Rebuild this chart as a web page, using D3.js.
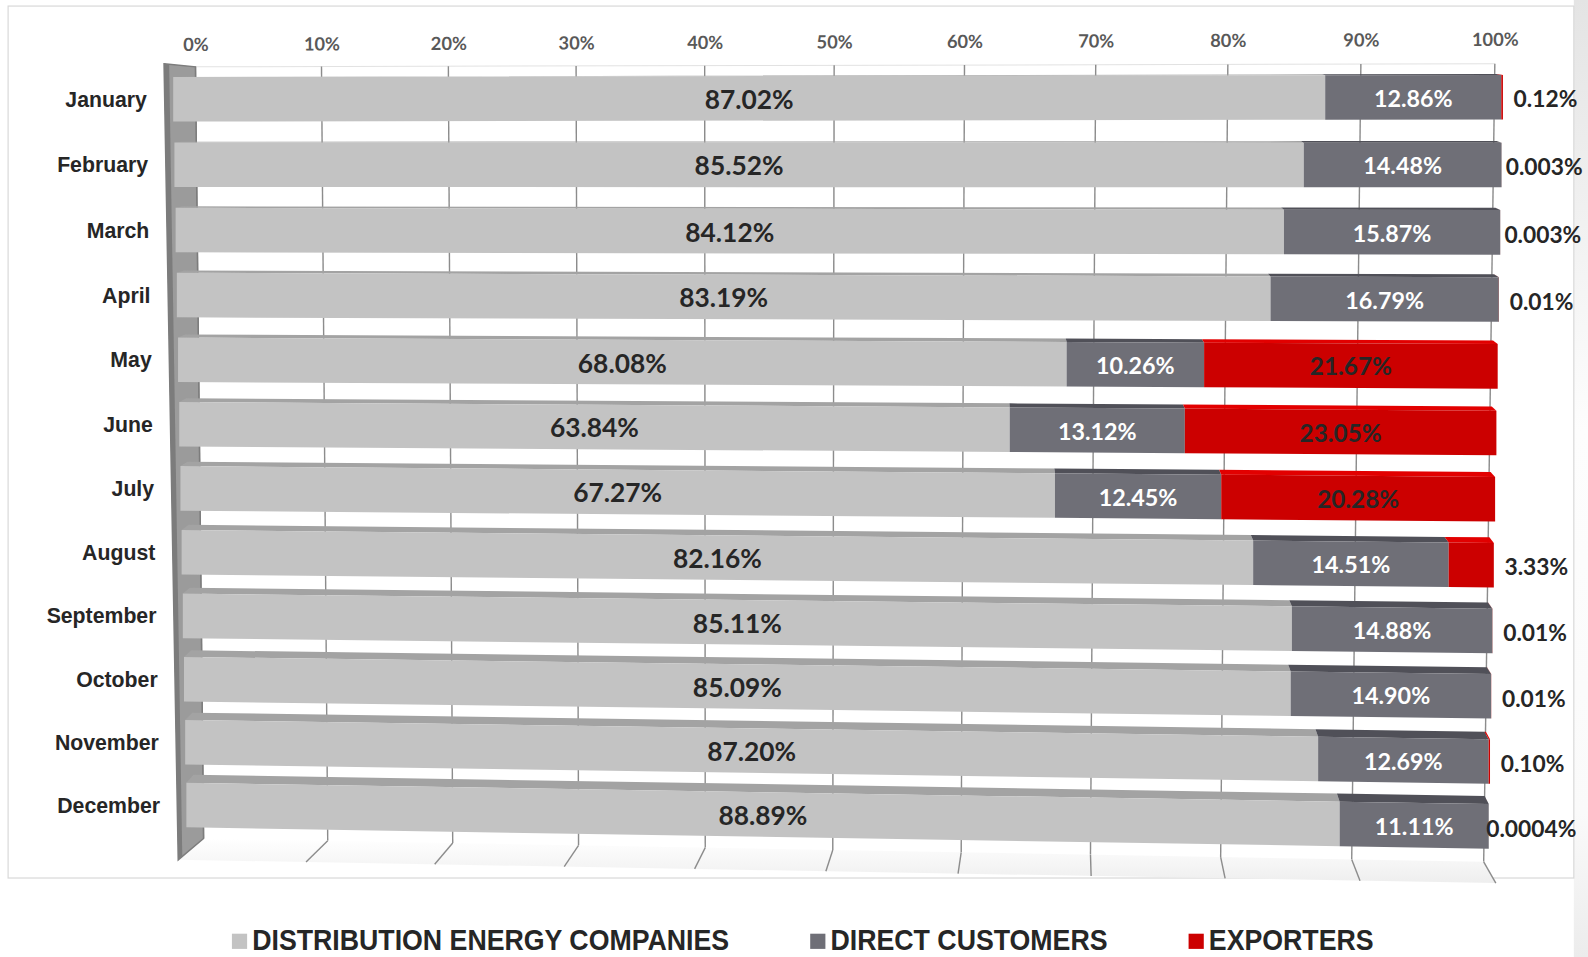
<!DOCTYPE html>
<html>
<head>
<meta charset="utf-8">
<script src="https://cdn.jsdelivr.net/npm/d3@7"></script>
<style>
  body { margin: 0; background: #fff; }
  svg { display: block; }
</style>
</head>
<body>
<script>
// data
const months = ['January', 'February', 'March', 'April', 'May', 'June', 'July',
  'August', 'September', 'October', 'November', 'December'];
const distribution = [87.02, 85.52, 84.12, 83.19, 68.08, 63.84, 67.27, 82.16, 85.11, 85.09, 87.20, 88.89];
const direct = [12.86, 14.48, 15.87, 16.79, 10.26, 13.12, 12.45, 14.51, 14.88, 14.90, 12.69, 11.11];
const exporters = [0.12, 0.003, 0.003, 0.01, 21.67, 23.05, 20.28, 3.33, 0.01, 0.01, 0.10, 0.0004];
const seriesNames = ['DISTRIBUTION ENERGY COMPANIES', 'DIRECT CUSTOMERS', 'EXPORTERS'];
const ticks = [0, 10, 20, 30, 40, 50, 60, 70, 80, 90, 100];

// drawing space = reference preview size, stretched to the window
const W = 1568, H = 945;

const color = {
  front: ['#c3c3c3', '#6f6f77', '#cc0000'],
  top: ['#a3a3a3', '#505058', '#e20000'],
  label: ['#262626', '#ffffff', '#262626'],
  text: '#262626',
  tick: '#595959',
  grid: '#8c8c8c',
  wall: '#9b9b9b',
  wallEdge: '#7c7c7c',
};
const labelSize = [26, 23, 24];

// 3d-ish layout: corners of the planes (front faces, top depth, back wall)
const frontFace = { tl: [171, 98], tr: [1484, 96], bl: [184, 795], br: [1470, 816] };
const topDepth = { tl: [7, 0], tr: [-5, -1], bl: [7, -8], br: [-4, -8] };
const backWall = { tl: [193, 66], tr: [1476, 63], bl: [201, 828], br: [1465, 851] };
const floorFront = [[176, 849], [1477, 872]];
const halfBar = 22;

// perspective foreshortening along value axis and row axis
const kx = -0.0333, ky = 0.024;
const persp = t => t * (1 + kx) / (1 + kx * t);
const rowPersp = r => r * (1 + ky) / (1 + ky * r);

const x = d3.scaleLinear().domain([0, 1]).range([0, 1]).clamp(true);
const row = d3.scaleLinear().domain([0, months.length - 1]).range([0, 1]);

function quad(c, s, q) {
  const top = d3.interpolate(c.tl, c.tr)(s);
  const bot = d3.interpolate(c.bl, c.br)(s);
  return d3.interpolate(top, bot)(q);
}
const onFront = (t, i) => quad(frontFace, persp(x(t)), rowPersp(row(i)));
const depthAt = (t, i) => quad(topDepth, persp(x(t)), rowPersp(row(i)));
const onWall = (t, q) => quad(backWall, persp(t), q);

const axisX = d3.scaleLinear()
  .domain(ticks)
  .range(ticks.map(t => onWall(t / 100, 0)[0]));

const fmt = v => v >= 0.01 ? v.toFixed(2) + '%' : String(v) + '%';

const table = months.map((m, i) => ({
  month: m, distribution: distribution[i], direct: direct[i], exporters: exporters[i],
}));
const keys = ['distribution', 'direct', 'exporters'];
const stacked = d3.stack().keys(keys).offset(d3.stackOffsetExpand)(table);

const svg = d3.select('body').append('svg')
  .attr('width', 1588)
  .attr('height', 957)
  .attr('viewBox', [0, 0, W, H])
  .attr('preserveAspectRatio', 'none');

const defs = svg.append('defs');
const side = defs.append('linearGradient').attr('id', 'side').attr('x1', 0).attr('x2', 0).attr('y1', 0).attr('y2', 1);
side.append('stop').attr('offset', 0).attr('stop-color', '#e4e4e4');
side.append('stop').attr('offset', 0.45).attr('stop-color', '#fdfdfd');
side.append('stop').attr('offset', 0.85).attr('stop-color', '#fafafa');
side.append('stop').attr('offset', 1).attr('stop-color', '#ececec');
const floorGrad = defs.append('linearGradient').attr('id', 'floor').attr('x1', 0).attr('x2', 0).attr('y1', 0).attr('y2', 1);
floorGrad.append('stop').attr('offset', 0).attr('stop-color', '#ffffff');
floorGrad.append('stop').attr('offset', 1).attr('stop-color', '#eeeeee');

svg.append('rect')
  .attr('x', 1554).attr('y', 0).attr('width', W - 1554).attr('height', H)
  .attr('fill', 'url(#side)');

// chart frame
svg.append('rect')
  .attr('x', 8).attr('y', 6).attr('width', 1546).attr('height', 861)
  .attr('fill', '#fff')
  .attr('stroke', '#d9d9d9')
  .attr('stroke-width', 1.2);

// back wall
const line = d3.line();
svg.append('path')
  .attr('d', line([onWall(0, 0), onWall(1, 0)]))
  .attr('stroke', '#e2e2e2')
  .attr('fill', 'none');

svg.append('g')
  .selectAll('path')
  .data(ticks)
  .join('path')
    .attr('d', t => line([onWall(t / 100, 0), onWall(t / 100, 1)]))
    .attr('stroke', color.grid)
    .attr('stroke-width', 1.4)
    .attr('fill', 'none');

// floor
const floorAt = t => d3.interpolate(floorFront[0], floorFront[1])(persp(t));
svg.append('path')
  .attr('d', line([onWall(0, 1), onWall(1, 1), floorAt(1), floorAt(0)]) + 'Z')
  .attr('fill', 'url(#floor)');

svg.append('g')
  .selectAll('path')
  .data(ticks.slice(1))
  .join('path')
    .attr('d', t => line([onWall(t / 100, 1), floorAt(t / 100)]))
    .attr('stroke', color.grid)
    .attr('stroke-width', 1.4)
    .attr('fill', 'none');

// left wall
const wallTop = onWall(0, 0), wallBot = onWall(0, 1);
svg.append('path')
  .attr('d', line([[162, 63], wallTop, wallBot, floorAt(0)]) + 'Z')
  .attr('fill', color.wall)
  .attr('stroke', color.wallEdge)
  .attr('stroke-width', 1.5);
svg.append('path')
  .attr('d', line([[162, 63], [167, 63.5], [180, 846], floorAt(0)]) + 'Z')
  .attr('fill', color.wallEdge);

// bars
const add = (a, b) => [a[0] + b[0], a[1] + b[1]];
const bars = svg.append('g')
  .selectAll('g')
  .data(months)
  .join('g');

bars.each(function(m, i) {
  const g = d3.select(this);
  const segs = stacked.map((layer, k) => ({ k, t0: layer[i][0], t1: layer[i][1] }));

  g.selectAll('.top')
    .data(segs)
    .join('path')
      .attr('class', 'top')
      .attr('d', d => {
        const a = add(onFront(d.t0, i), [0, -halfBar]);
        const b = add(onFront(d.t1, i), [0, -halfBar]);
        return line([a, b, add(b, depthAt(d.t1, i)), add(a, depthAt(d.t0, i))]) + 'Z';
      })
      .attr('fill', d => color.top[d.k]);

  g.selectAll('.front')
    .data(segs)
    .join('path')
      .attr('class', 'front')
      .attr('d', d => {
        const a = onFront(d.t0, i), b = onFront(d.t1, i);
        return line([add(a, [0, -halfBar]), add(b, [0, -halfBar]),
          add(b, [0, halfBar]), add(a, [0, halfBar])]) + 'Z';
      })
      .attr('fill', d => color.front[d.k]);
});

// value labels
const values = [distribution, direct, exporters];
const labels = [];
months.forEach((m, i) => {
  stacked.forEach((layer, k) => {
    const v = values[k][i];
    const a = onFront(layer[i][0], i), b = onFront(layer[i][1], i);
    if (k === 2 && v < 5) {
      const end = onFront(1, i);
      labels.push({ text: fmt(v), x: end[0] + 42, y: end[1] + 2, fill: color.text, size: 22.5 });
    } else {
      labels.push({ text: fmt(v), x: (a[0] + b[0]) / 2, y: (a[1] + b[1]) / 2 + 1, fill: color.label[k], size: labelSize[k] });
    }
  });
});

svg.append('g')
  .attr('font-family', 'Lato, "Open Sans", sans-serif')
  .attr('font-weight', 700)
  .attr('text-anchor', 'middle')
  .selectAll('text')
  .data(labels)
  .join('text')
    .attr('x', d => d.x)
    .attr('y', d => d.y)
    .attr('dy', '0.36em')
    .attr('font-size', d => d.size)
    .attr('fill', d => d.fill)
    .text(d => d.text);

// month labels
svg.append('g')
  .attr('font-family', '"Liberation Sans", Arial, sans-serif')
  .attr('font-weight', 700)
  .attr('font-size', 21)
  .attr('text-anchor', 'end')
  .attr('fill', color.text)
  .selectAll('text')
  .data(months)
  .join('text')
    .attr('x', (d, i) => onFront(0, i)[0] - 26)
    .attr('y', (d, i) => onFront(0, i)[1])
    .attr('dy', '0.35em')
    .text(d => d);

// percent axis along the top of the back wall
const axis = svg.append('g')
  .attr('transform', 'translate(0,51) rotate(-0.22)')
  .call(d3.axisTop(axisX).tickValues(ticks).tickFormat(d => d + '%').tickSize(0).tickPadding(0));
axis.select('.domain').remove();
axis.selectAll('text')
  .attr('font-family', 'Lato, "Open Sans", sans-serif')
  .attr('font-weight', 700)
  .attr('font-size', 18)
  .attr('fill', color.tick);

// legend (condensed bold face, squeezed to narrow width)
const legend = svg.append('g')
  .attr('font-family', '"Liberation Sans Narrow", "Arial Narrow", "Liberation Sans", Arial, sans-serif')
  .attr('font-weight', 700)
  .attr('font-size', 29)
  .attr('fill', color.text);

let lx = 229;
seriesNames.forEach((name, k) => {
  legend.append('rect')
    .attr('x', lx).attr('y', 922).attr('width', 15).attr('height', 15)
    .attr('fill', color.front[k]);
  const t = legend.append('text')
    .attr('x', lx + 20)
    .attr('y', 938)
    .text(name);
  const len = t.node().getComputedTextLength() * 0.91;
  t.attr('textLength', len).attr('lengthAdjust', 'spacingAndGlyphs');
  lx += 20 + len + 80;
});
</script>
</body>
</html>
